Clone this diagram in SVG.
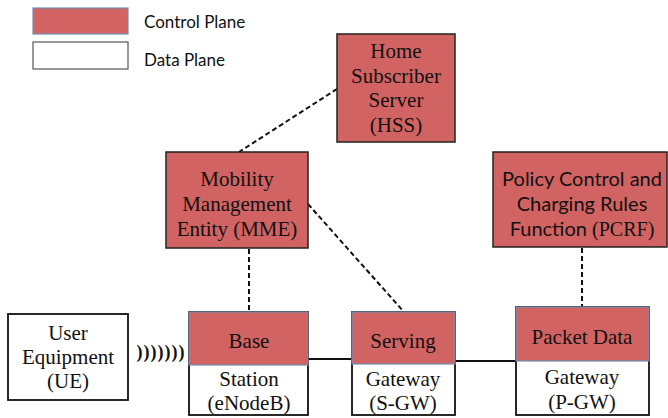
<svg xmlns="http://www.w3.org/2000/svg" width="668" height="418" viewBox="0 0 668 418">
<style>
.ctl{fill:#D16363;stroke:#222;stroke-width:1.5}
.ctlb{fill:#D16363;stroke:#6f8fb5;stroke-width:1.2}
.dat{fill:#fff;stroke:#111;stroke-width:1.8}
.dash{stroke:#111;stroke-width:2;stroke-dasharray:5,3;fill:none}
.solid{stroke:#111;stroke-width:2;fill:none}
</style>
<rect width="668" height="418" fill="#fff"/>
<g id="legend" font-family="Lato, 'Open Sans', sans-serif" font-size="17" fill="#111">
<rect x="33" y="8" width="95" height="26" class="ctlb"/>
<text x="144" y="28">Control Plane</text>
<rect x="33" y="42" width="95" height="27" fill="#fff" stroke="#555" stroke-width="1.2"/>
<text x="144" y="66">Data Plane</text>
</g>
<g id="connectors">
<line x1="337" y1="89" x2="239" y2="152" class="dash"/>
<line x1="249" y1="249" x2="249" y2="312" class="dash"/>
<line x1="308" y1="204" x2="404" y2="312" class="dash"/>
<line x1="582" y1="248" x2="582" y2="307" class="dash"/>
<line x1="308" y1="359" x2="351" y2="359" class="solid"/>
<line x1="455" y1="361" x2="516" y2="361" class="solid"/>
<text x="161" y="358" font-family="'Liberation Serif', 'Times New Roman', serif" font-weight="bold" font-size="18" letter-spacing="1" fill="#111" text-anchor="middle">)))))))</text>
</g>
<g id="hss" font-family="'Liberation Serif', 'Times New Roman', serif" font-size="21" fill="#111" text-anchor="middle">
<rect x="337" y="34" width="118" height="108" class="ctl"/>
<text><tspan x="396" y="58">Home</tspan><tspan x="396" y="83">Subscriber</tspan><tspan x="396" y="107">Server</tspan><tspan x="396" y="132">(HSS)</tspan></text>
</g>
<g id="mme" font-family="'Liberation Serif', 'Times New Roman', serif" font-size="21" fill="#111" text-anchor="middle">
<rect x="166" y="152" width="142" height="96" class="ctl"/>
<text><tspan x="237" y="186">Mobility</tspan><tspan x="237" y="211">Management</tspan><tspan x="237" y="236">Entity (MME)</tspan></text>
</g>
<g id="pcrf" font-family="Lato, 'Open Sans', sans-serif" font-size="20" fill="#111" text-anchor="middle">
<rect x="493" y="152" width="174" height="95" class="ctl"/>
<text><tspan x="582" y="186">Policy Control and</tspan><tspan x="582" y="211">Charging Rules</tspan><tspan x="582" y="236">Function <tspan font-family="'Liberation Serif', 'Times New Roman', serif">(PCRF)</tspan></tspan></text>
</g>
<g id="ue" font-family="'Liberation Serif', 'Times New Roman', serif" font-size="21" fill="#111" text-anchor="middle">
<rect x="8" y="314" width="120" height="86" class="dat"/>
<text><tspan x="68" y="340">User</tspan><tspan x="68" y="364">Equipment</tspan><tspan x="68" y="388">(UE)</tspan></text>
</g>
<g id="enodeb" font-family="'Liberation Serif', 'Times New Roman', serif" font-size="21" fill="#111" text-anchor="middle">
<rect x="189" y="312" width="119" height="103" class="dat"/>
<rect x="189" y="312" width="119" height="53" class="ctlb"/>
<text><tspan x="249" y="348">Base</tspan><tspan x="249" y="386">Station</tspan><tspan x="249" y="410">(eNodeB)</tspan></text>
</g>
<g id="sgw" font-family="'Liberation Serif', 'Times New Roman', serif" font-size="21" fill="#111" text-anchor="middle">
<rect x="352" y="312" width="103" height="103" class="dat"/>
<rect x="352" y="312" width="103" height="52" class="ctlb"/>
<text><tspan x="403" y="348">Serving</tspan><tspan x="403" y="386">Gateway</tspan><tspan x="403" y="410">(S-GW)</tspan></text>
</g>
<g id="pgw" font-family="'Liberation Serif', 'Times New Roman', serif" font-size="21" fill="#111" text-anchor="middle">
<rect x="516" y="307" width="133" height="108" class="dat"/>
<rect x="516" y="307" width="133" height="54" class="ctlb"/>
<text><tspan x="582" y="344">Packet Data</tspan><tspan x="582" y="384">Gateway</tspan><tspan x="582" y="409">(P-GW)</tspan></text>
</g>
</svg>
